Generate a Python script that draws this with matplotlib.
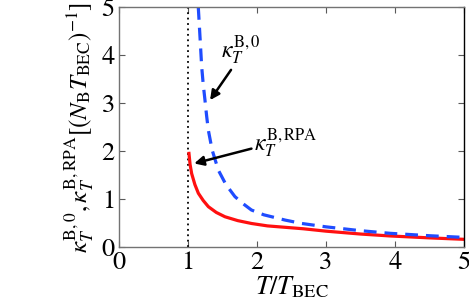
import matplotlib
matplotlib.use("Agg")
import matplotlib.pyplot as plt

plt.rcParams["font.family"] = ["STIXGeneral", "Liberation Serif", "DejaVu Serif"]
plt.rcParams["mathtext.fontset"] = "stix"

# values
t_free = [1.149, 1.175, 1.198, 1.22, 1.246, 1.27, 1.294, 1.35, 1.44, 1.55, 1.68,
          1.80, 1.92, 2.1, 2.41, 2.65, 3.0, 3.5, 3.93, 4.5, 5.0]
k_free = [5.0, 4.35, 3.76, 3.40, 3.06, 2.73, 2.44, 2.02, 1.60, 1.30, 1.05,
          0.90, 0.77, 0.67, 0.56, 0.49, 0.42, 0.34, 0.285, 0.235, 0.20]
t_rpa = [1.014, 1.03, 1.053, 1.10, 1.15, 1.22, 1.295, 1.41, 1.536, 1.72, 1.92,
         2.15, 2.41, 2.67, 3.0, 3.5, 3.93, 4.5, 5.0]
k_rpa = [1.95, 1.72, 1.53, 1.30, 1.12, 0.97, 0.84, 0.72, 0.63, 0.55, 0.49,
         0.44, 0.41, 0.38, 0.33, 0.27, 0.23, 0.19, 0.16]
t_bec = 1.0

fig = plt.figure(figsize=(4.69, 3.06), dpi=100)
ax = fig.add_axes([119 / 469, (306 - 247) / 306, (464 - 119) / 469, (247 - 7) / 306])

ax.axvline(t_bec, color="black", linestyle=(0, (1, 2)), linewidth=1.3)
ax.plot(t_rpa, k_rpa, color="#ff1010", linewidth=2.3, solid_joinstyle="round")
ax.plot(t_free, k_free, color="#1f4cff", linewidth=2.3, linestyle=(0, (4, 2.5)))

ax.annotate(r"$\kappa_T^{\mathrm{B},0}$", xy=(1.32, 3.06), xytext=(1.48, 4.1),
            fontsize=17, va="center",
            arrowprops=dict(arrowstyle="-|>", color="black", lw=1.8,
                            mutation_scale=14, shrinkA=0, shrinkB=0,
                            relpos=(0.3, 0.0)))
ax.annotate(r"$\kappa_T^{\mathrm{B,RPA}}$", xy=(1.09, 1.74), xytext=(1.96, 2.17),
            fontsize=17, va="center",
            arrowprops=dict(arrowstyle="-|>", color="black", lw=1.8,
                            mutation_scale=14, shrinkA=0, shrinkB=0,
                            relpos=(0.0, 0.35)))

ax.set_xlim(0, 5)
ax.set_ylim(0, 5)
ax.set_xticks(range(6))
ax.set_yticks(range(6))
ax.tick_params(direction="in", top=True, right=True, length=4, width=0.8,
               colors="0.35", labelcolor="black", labelsize=19, pad=3)
for lbl in ax.get_xticklabels() + ax.get_yticklabels():
    lbl.set_family("STIXGeneral")
for s in ax.spines.values():
    s.set_color("0.45")
    s.set_linewidth(1.0)
ax.spines["right"].set_color("black")

ax.set_xlabel(r"$T/T_{\mathrm{BEC}}$", fontsize=19, labelpad=0)
ax.set_ylabel(r"$\kappa_T^{\mathrm{B},0},\kappa_T^{\mathrm{B,RPA}}[(N_{\mathrm{B}}T_{\mathrm{BEC}})^{-1}]$",
              fontsize=18, labelpad=4)

fig.savefig("out.png", dpi=100)
